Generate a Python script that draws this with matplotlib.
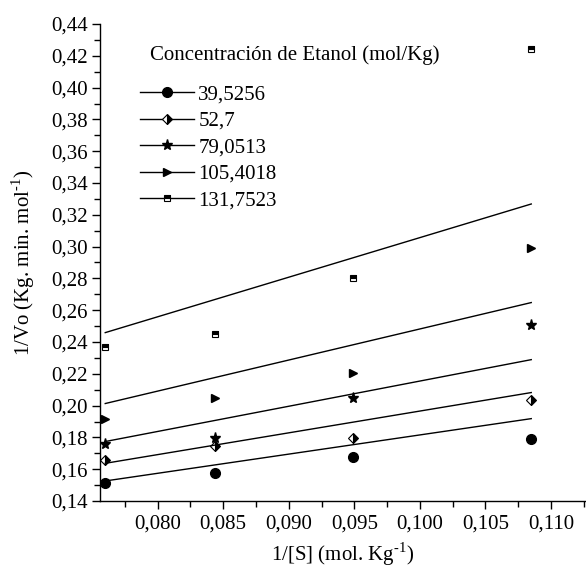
import matplotlib
matplotlib.use("Agg")
import matplotlib.pyplot as plt
from matplotlib.ticker import MultipleLocator, FuncFormatter
from matplotlib.lines import Line2D

plt.rcParams['font.family'] = ['Liberation Serif', 'DejaVu Serif']
plt.rcParams['mathtext.fontset'] = 'custom'
plt.rcParams['mathtext.rm'] = 'Liberation Serif'
plt.rcParams['axes.unicode_minus'] = False

# Data
inv_S = [0.0760, 0.0844, 0.0949, 0.1085]
labels = ["39,5256", "52,7", "79,0513", "105,4018", "131,7523"]
y_39 = [0.1516, 0.1579, 0.1677, 0.1788]
y_52 = [0.1658, 0.1746, 0.1799, 0.2033]
y_79 = [0.1757, 0.1799, 0.2050, 0.2509]
y_105 = [0.1918, 0.2050, 0.2203, 0.2994]
y_131 = [0.2369, 0.2449, 0.2805, 0.4241]
# fitted lines (values at first and last 1/[S])
fit_start = [0.1526, 0.1637, 0.1774, 0.2013, 0.2459]
fit_end = [0.1918, 0.2082, 0.2289, 0.2648, 0.3268]

series = [y_39, y_52, y_79, y_105, y_131]
markers = [dict(marker='o', ms=7, mfc='black', mec='black'),
           dict(marker='D', ms=5, fillstyle='right', mfc='black', mec='black', mfcalt='white', mew=0.8),
           dict(marker='*', ms=8, mfc='black', mec='black'),
           dict(marker='>', ms=6, mfc='black', mec='black'),
           dict(marker='s', ms=5, fillstyle='top', mfc='black', mec='black', mfcalt='white', mew=0.8)]

W, H = 586, 569
fig = plt.figure(figsize=(W/100, H/100), dpi=100)
ax = fig.add_axes([100/W, 1-501/H, 485/W, 477/H])

for ys, fs, fe, mk in zip(series, fit_start, fit_end, markers):
    ax.plot(inv_S, ys, linestyle='none', **mk)
    ax.plot([inv_S[0], inv_S[-1]], [fs, fe], color='black', lw=1.0)

handles = [Line2D([0], [0], color='black', lw=1.0, **mk) for mk in markers]
fig.text(150/W, 1-55/H, "Concentración de Etanol (mol/Kg)", fontsize=15,
         ha='left', va='center')
leg = ax.legend(handles, labels,
                loc='upper left', bbox_to_anchor=(40/485, 1-(85-24)/477), frameon=False,
                fontsize=15, handlelength=2.6, handletextpad=0.2,
                labelspacing=0.33, borderaxespad=0, borderpad=0,
                numpoints=1)

ax.set_xlim(0.0756, 0.1126)
ax.set_ylim(0.14, 0.44)
ax.xaxis.set_major_locator(MultipleLocator(0.005))
ax.xaxis.set_minor_locator(MultipleLocator(0.0025))
ax.yaxis.set_major_locator(MultipleLocator(0.02))
ax.yaxis.set_minor_locator(MultipleLocator(0.01))
ax.xaxis.set_major_formatter(FuncFormatter(lambda v, p: f"{v:.3f}".replace('.', ',')))
ax.yaxis.set_major_formatter(FuncFormatter(lambda v, p: f"{v:.2f}".replace('.', ',')))
ax.tick_params(which='major', direction='out', length=6, width=1, labelsize=15, pad=3)
ax.tick_params(which='minor', direction='out', length=4, width=1)
ax.tick_params(axis='x', which='major', pad=4)
for s in ['top', 'right']:
    ax.spines[s].set_visible(False)
for s in ['left', 'bottom']:
    ax.spines[s].set_linewidth(1)

ax.set_xlabel("1/[S] (mol. Kg$^{\\text{-1}}$)", fontsize=15, labelpad=5)
ax.set_ylabel("1/Vo (Kg. min. mol$^{\\text{-1}}$)", fontsize=15, labelpad=10)

fig.savefig("out.png", dpi=100)
